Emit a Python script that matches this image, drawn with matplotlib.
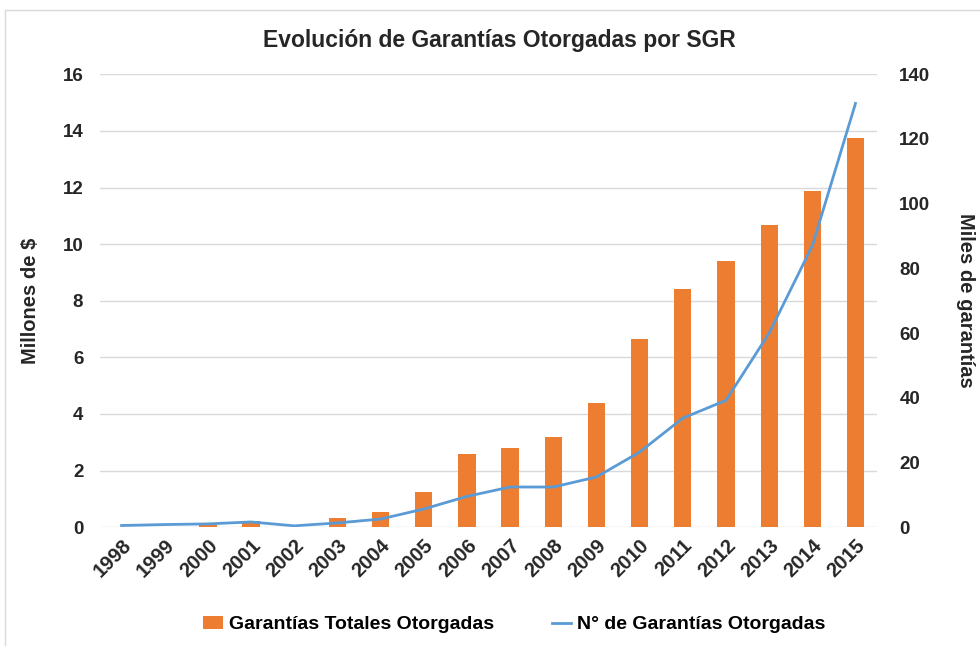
import matplotlib.pyplot as plt
from matplotlib.patches import Rectangle

plt.rcParams['font.family'] = ['Liberation Sans Narrow', 'Liberation Sans', 'DejaVu Sans']

years = ['1998', '1999', '2000', '2001', '2002', '2003', '2004', '2005', '2006',
         '2007', '2008', '2009', '2010', '2011', '2012', '2013', '2014', '2015']
# Millones de $
montos = [0.02, 0.01, 0.06, 0.2, 0.02, 0.32, 0.52, 1.24, 2.6,
          2.79, 3.2, 4.38, 6.64, 8.41, 9.4, 10.67, 11.87, 13.74]
# Miles de garantias
cantidad = [0.5, 0.8, 1.0, 1.6, 0.4, 1.3, 2.5, 5.6, 9.5,
            12.4, 12.4, 15.5, 23.2, 33.7, 39.2, 60, 87, 131]

fig = plt.figure(figsize=(9.8, 6.46), dpi=100)
fig.patches.append(Rectangle((0.005, -0.01), 1.0, 0.995, transform=fig.transFigure,
                             fill=False, edgecolor='#d9d9d9', linewidth=1))
ax = fig.add_axes([0.102, 0.184, 0.793, 0.701])
ax2 = ax.twinx()

x = list(range(len(years)))
bars = ax.bar(x, montos, width=0.4, color='#ED7D31', label='Garantías Totales Otorgadas', zorder=2)
ln, = ax2.plot(x, cantidad, color='#5B9BD5', linewidth=2, label='N° de Garantías Otorgadas')

ax.set_ylim(0, 16)
ax.set_yticks(range(0, 17, 2))
ax2.set_ylim(0, 140)
ax2.set_yticks(range(0, 141, 20))
ax.set_xlim(-0.5, len(years) - 0.5)
ax.set_xticks(x)
ax.set_xticklabels(years, rotation=45, ha='right', rotation_mode='anchor',
                   fontsize=14.5, fontweight='bold', color='#262626')
ax.grid(axis='y', color='#d9d9d9', linewidth=1, zorder=0)
ax.set_axisbelow(True)

for a in (ax, ax2):
    for s in a.spines.values():
        s.set_visible(False)
    a.tick_params(length=0, colors='#262626')
ax.tick_params(axis='y', labelsize=13.5, pad=12)
ax2.tick_params(axis='y', labelsize=13.5, pad=16)
ax.tick_params(axis='x', pad=6)
for lab in ax.get_yticklabels() + ax2.get_yticklabels():
    lab.set_fontweight('bold')

ax.set_ylabel('Millones de $', fontsize=14.5, fontweight='bold', color='#262626', labelpad=16)
ax2.set_ylabel('Miles de garantías', fontsize=14.5, fontweight='bold', color='#262626',
               rotation=-90, labelpad=32)

fig.suptitle('Evolución de Garantías Otorgadas por SGR', x=0.51, y=0.955,
             fontsize=16.5, fontweight='bold', color='#262626')

fig.legend([bars, ln], ['Garantías Totales Otorgadas', 'N° de Garantías Otorgadas'],
           loc='center', bbox_to_anchor=(0.525, 0.033), ncol=2, frameon=False,
           prop={'size': 14, 'weight': 'bold'}, handlelength=1.0, columnspacing=3,
           handletextpad=0.3)

fig.savefig('out.png', dpi=100)
